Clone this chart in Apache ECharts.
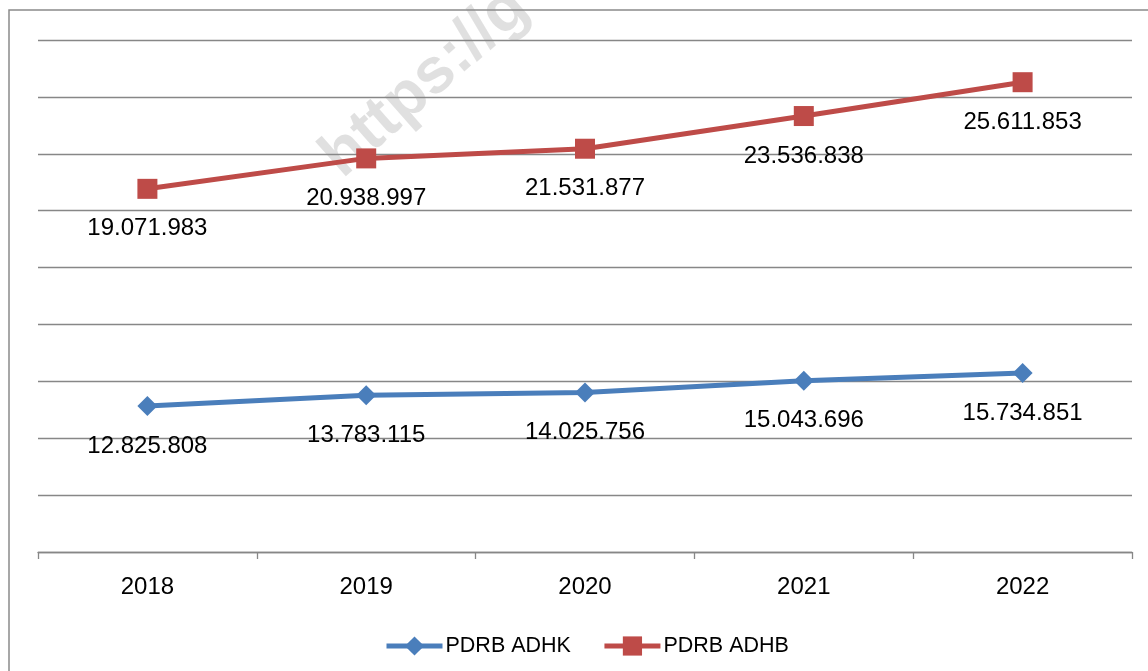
<!DOCTYPE html>
<html>
<head>
<meta charset="utf-8">
<script src="https://cdn.jsdelivr.net/npm/echarts@6/dist/echarts.min.js"></script>
<style>
    html, body { margin: 0; padding: 0; background: #fff; }
    #chart { width: 1148px; height: 671px; }
</style>
</head>
<body>
<div id="chart"></div>
<script>
// data
let years = ['2018', '2019', '2020', '2021', '2022']
let adhk = [12825808, 13783115, 14025756, 15043696, 15734851]
let adhb = [19071983, 20938997, 21531877, 23536838, 25611853]

let font = '"Liberation Sans", Arial, sans-serif'

function dots (v) {
    return String(v).replace(/\B(?=(\d{3})+(?!\d))/g, '.')
}

function pointLabel () {
    return {
        show: true,
        position: 'bottom',
        distance: 18,
        fontFamily: font,
        fontSize: 24,
        lineHeight: 24,
        color: '#000',
        formatter: function (p) { return dots(p.value) }
    }
}

let chart = echarts.init(document.getElementById('chart'))
chart.setOption({
    animation: false,
    color: ['#4a7ebb', '#be4b48'],
    grid: {
        left: 38,
        right: 16,
        top: 40,
        bottom: 119
    },
    legend: {
        left: 379,
        top: 630,
        itemWidth: 56,
        itemHeight: 24,
        itemGap: 31,
        lineStyle: { width: 5 },
        textStyle: { fontFamily: font, fontSize: 21.5, color: '#000', padding: [0, 0, 0, -2] },
        data: ['PDRB ADHK', 'PDRB ADHB']
    },
    xAxis: {
        type: 'category',
        data: years,
        axisLine: { lineStyle: { color: '#878787', width: 1.3 } },
        axisTick: { show: true, interval: 0, length: 7, lineStyle: { color: '#878787', width: 1.3 } },
        axisLabel: { fontFamily: font, fontSize: 24, color: '#000', margin: 23 }
    },
    yAxis: [
        {
            type: 'value',
            min: 0,
            max: 45000000,
            interval: 5000000,
            axisLabel: { show: false },
            axisLine: { show: false },
            axisTick: { show: false },
            splitLine: { lineStyle: { color: '#878787', width: 1.3 } }
        },
        {
            type: 'value',
            min: -3200000,
            max: 28200000,
            show: false,
            splitLine: { show: false }
        }
    ],
    series: [
        {
            name: 'PDRB ADHK',
            type: 'line',
            yAxisIndex: 0,
            data: adhk,
            symbol: 'diamond',
            symbolSize: 20,
            lineStyle: { width: 5 },
            label: pointLabel()
        },
        {
            name: 'PDRB ADHB',
            type: 'line',
            yAxisIndex: 1,
            data: adhb,
            symbol: 'rect',
            symbolSize: 20,
            lineStyle: { width: 5 },
            label: pointLabel()
        }
    ],
    graphic: [
        {
            type: 'rect',
            shape: { x: 9, y: 10, width: 1160, height: 700 },
            style: { fill: null, stroke: '#8a8a8a', lineWidth: 1.5 },
            silent: true
        },
        {
            type: 'text',
            x: 352,
            y: 190,
            rotation: Math.PI * 41.5 / 180,
            style: {
                text: 'https://g',
                fontFamily: font,
                fontWeight: 'bold',
                fontSize: 64,
                fill: 'rgba(0,0,0,0.12)',
                textVerticalAlign: 'bottom'
            },
            z: -1,
            silent: true
        }
    ]
})
</script>
</body>
</html>
